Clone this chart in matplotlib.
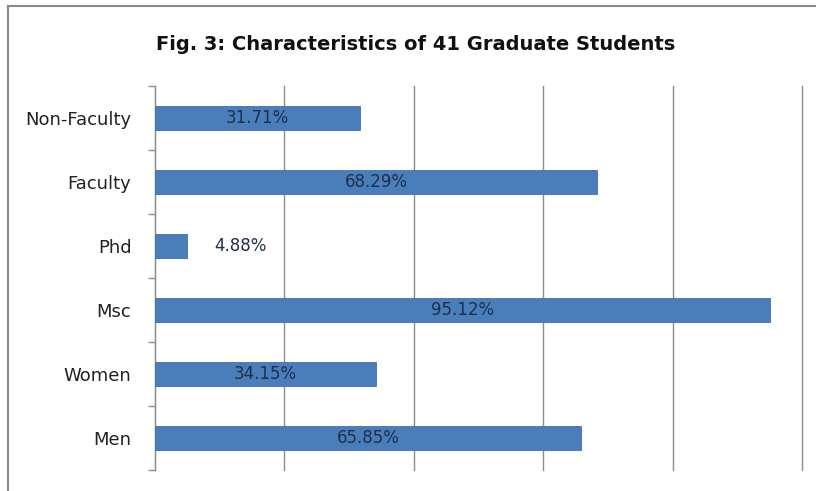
import matplotlib.pyplot as plt
import numpy as np
from matplotlib.lines import Line2D

# Datos del gráfico (de abajo hacia arriba)
categorias = ['Men', 'Women', 'Msc', 'Phd', 'Faculty', 'Non-Faculty']
porcentajes = [65.85, 34.15, 95.12, 4.88, 68.29, 31.71]
etiquetas = ['65.85%', '34.15%', '95.12%', '4.88%', '68.29%', '31.71%']

plt.rcParams['font.family'] = ['DejaVu Sans']

fig = plt.figure(figsize=(8.16, 4.91), dpi=100)
ax = fig.add_axes([155 / 816, 1 - 470 / 491, (802 - 155) / 816, (470 - 86) / 491])

y = np.arange(len(categorias))
ax.barh(y, porcentajes, height=0.39, color='#4a7ebb', edgecolor='#3f70aa', linewidth=0.6, zorder=3)

# Etiquetas de datos centradas; la barra corta lleva la etiqueta fuera
for i, (v, txt) in enumerate(zip(porcentajes, etiquetas)):
    xpos = v / 2 if v > 10 else 13.2
    ax.text(xpos, i, txt, ha='center', va='center', fontsize=12, color='#1f2f4a', zorder=4)

ax.set_xlim(0, 100)
ax.set_ylim(-0.5, len(categorias) - 0.5)
ax.set_xticks([0, 20, 40, 60, 80, 100])
ax.set_xticklabels([])
ax.tick_params(axis='x', length=0)
ax.grid(axis='x', color='#8c8c8c', linewidth=1, zorder=0)
for linea in ax.get_xgridlines():
    linea.set_clip_on(False)

ax.set_yticks(y)
ax.set_yticklabels(categorias, fontsize=13, color='#222222')
ax.set_yticks(np.arange(-0.5, len(categorias)), minor=True)
ax.tick_params(axis='y', which='major', length=0, pad=17)
ax.tick_params(axis='y', which='minor', length=5, color='#8c8c8c', width=1)

for lado in ['top', 'right', 'bottom']:
    ax.spines[lado].set_visible(False)
ax.spines['left'].set_color('#8c8c8c')

fig.text(416 / 816, 1 - 44 / 491, 'Fig. 3: Characteristics of 41 Graduate Students',
         ha='center', va='center', fontsize=14, fontweight='bold', color='#111111')

# Marco exterior (solo visible arriba y a la izquierda)
fig.add_artist(Line2D([8 / 816, 8 / 816], [0, 1 - 6 / 491], color='#8a8a8a', linewidth=1.5))
fig.add_artist(Line2D([8 / 816, 1], [1 - 6 / 491, 1 - 6 / 491], color='#8a8a8a', linewidth=1.5))

fig.savefig('out.png', dpi=100)
